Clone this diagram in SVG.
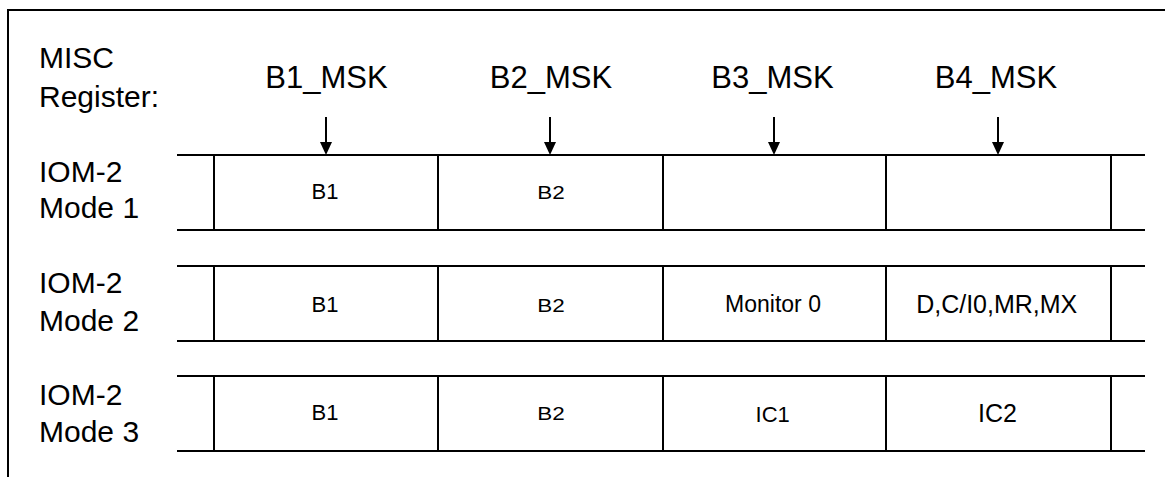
<svg xmlns="http://www.w3.org/2000/svg" width="1165" height="477" viewBox="0 0 1165 477">
<style>
  .ln{stroke:#000;stroke-width:2;fill:none}
  .t{font-family:"Liberation Sans",Arial,sans-serif;fill:#000}
  .lbl{font-size:30px}
  .msk{font-size:31px;text-anchor:middle}
  .c22{font-size:22px;text-anchor:middle}
  .c19{font-size:19px;text-anchor:middle}
  .c23{font-size:23px;text-anchor:middle}
  .c25{font-size:25px;text-anchor:middle}
</style>
<defs>
  <marker id="ah" markerWidth="12" markerHeight="13" refX="6" refY="13" orient="auto" markerUnits="userSpaceOnUse" viewBox="0 0 12 13">
    <path d="M0,0 L12,0 L6,13 Z" fill="#000"/>
  </marker>
</defs>
<rect width="1165" height="477" fill="#fff"/>
<g id="frame">
  <path class="ln" d="M8,477 L8,10 L1165,10"/>
</g>
<g id="misc-label">
  <text class="t lbl" x="39" y="68">MISC</text>
  <text class="t lbl" x="39" y="107">Register:</text>
</g>
<g id="mask-labels">
  <text class="t msk" x="326.5" y="88">B1_MSK</text>
  <text class="t msk" x="551" y="88">B2_MSK</text>
  <text class="t msk" x="772.5" y="88">B3_MSK</text>
  <text class="t msk" x="996" y="88">B4_MSK</text>
</g>
<g id="connectors">
  <line class="ln" x1="326" y1="117" x2="326" y2="142"/>
  <path d="M320,142 L332,142 L326,155 Z" fill="#000"/>
  <line class="ln" x1="550" y1="117" x2="550" y2="142"/>
  <path d="M544,142 L556,142 L550,155 Z" fill="#000"/>
  <line class="ln" x1="774" y1="117" x2="774" y2="142"/>
  <path d="M768,142 L780,142 L774,155 Z" fill="#000"/>
  <line class="ln" x1="998" y1="117" x2="998" y2="142"/>
  <path d="M992,142 L1004,142 L998,155 Z" fill="#000"/>
</g>
<g id="mode1">
  <text class="t lbl" x="39" y="182">IOM-2</text>
  <text class="t lbl" x="39" y="218">Mode 1</text>
  <path class="ln" d="M177,155 L1145,155 M177,230 L1145,230 M214,155 L214,230 M438,155 L438,230 M663,155 L663,230 M886,155 L886,230 M1111,155 L1111,230"/>
  <text class="t c22" x="325" y="199">B1</text>
  <text class="t c19" x="551" y="199" textLength="27.5" lengthAdjust="spacingAndGlyphs">B2</text>
</g>
<g id="mode2">
  <text class="t lbl" x="39" y="293">IOM-2</text>
  <text class="t lbl" x="39" y="330.5">Mode 2</text>
  <path class="ln" d="M177,266 L1145,266 M177,341 L1145,341 M214,266 L214,341 M438,266 L438,341 M663,266 L663,341 M886,266 L886,341 M1111,266 L1111,341"/>
  <text class="t c22" x="325" y="311.5">B1</text>
  <text class="t c19" x="551" y="311.5" textLength="27.5" lengthAdjust="spacingAndGlyphs">B2</text>
  <text class="t c23" x="773" y="312">Monitor 0</text>
  <text class="t c25" x="996.7" y="313">D,C/I0,MR,MX</text>
</g>
<g id="mode3">
  <text class="t lbl" x="39" y="405">IOM-2</text>
  <text class="t lbl" x="39" y="442">Mode 3</text>
  <path class="ln" d="M177,376 L1145,376 M177,451 L1145,451 M214,376 L214,451 M438,376 L438,451 M663,376 L663,451 M886,376 L886,451 M1111,376 L1111,451"/>
  <text class="t c22" x="325" y="419.5">B1</text>
  <text class="t c19" x="551" y="419.5" textLength="27.5" lengthAdjust="spacingAndGlyphs">B2</text>
  <text class="t c22" x="772.7" y="421.5">IC1</text>
  <text class="t c25" x="997.5" y="421.5">IC2</text>
</g>
</svg>
